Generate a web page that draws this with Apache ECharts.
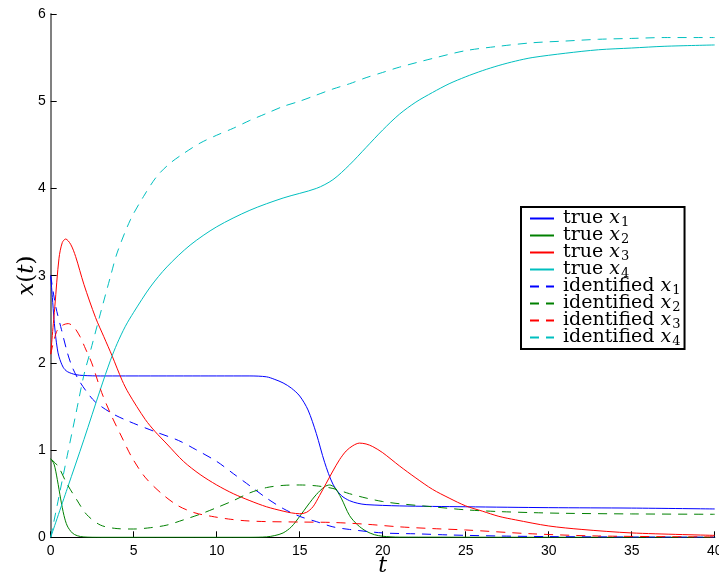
<!DOCTYPE html>
<html>
<head>
<meta charset="utf-8">
<script src="https://cdn.jsdelivr.net/npm/echarts@6/dist/echarts.min.js"></script>
<style>
  html, body { margin: 0; padding: 0; background: #ffffff; }
  #chart { width: 719px; height: 572px; }
</style>
</head>
<body>
<div id="chart"></div>
<script>
// State trajectories x1..x4 over time t: true system vs identified model
const tTrue1 = [0, 0.1, 0.2, 0.3, 0.4, 0.5, 0.75, 1, 1.5, 2, 3, 6, 10, 12, 13, 13.5, 14, 14.5, 15, 15.5, 16, 16.5, 17, 17.5, 18, 18.5, 19, 21, 25, 30, 35, 40];
const yTrue1 = [3.0, 2.75, 2.5, 2.3, 2.16, 2.07, 1.95, 1.9, 1.865, 1.855, 1.85, 1.85, 1.85, 1.85, 1.84, 1.81, 1.77, 1.71, 1.62, 1.46, 1.19, 0.86, 0.61, 0.48, 0.42, 0.39, 0.375, 0.36, 0.35, 0.34, 0.335, 0.325];

const tTrue2 = [0, 0.2, 0.4, 0.6, 0.8, 1, 1.3, 1.6, 2, 3, 12, 13, 13.5, 14, 14.5, 15, 15.5, 16, 16.5, 16.8, 17.1, 17.5, 18, 18.5, 19, 19.5, 20, 21, 40];
const yTrue2 = [0.9, 0.84, 0.66, 0.44, 0.25, 0.13, 0.05, 0.018, 0.004, 0, 0, 0.005, 0.02, 0.05, 0.12, 0.24, 0.37, 0.49, 0.58, 0.6, 0.57, 0.45, 0.25, 0.14, 0.07, 0.03, 0.012, 0.002, 0];

const tTrue3 = [0, 0.25, 0.5, 0.7, 0.9, 1.2, 1.5, 2, 2.7, 3.2, 3.7, 4.3, 4.7, 5.7, 6.3, 7, 8, 9, 10, 11, 12, 13, 14, 14.5, 15, 15.4, 15.8, 16.2, 16.6, 17, 17.4, 17.8, 18.2, 18.6, 19, 19.4, 20, 21, 22, 23, 24, 25, 26, 27, 28, 30, 32, 35, 40];
const yTrue3 = [2.1, 2.65, 3.2, 3.38, 3.42, 3.36, 3.22, 2.9, 2.52, 2.3, 2.08, 1.8, 1.65, 1.35, 1.21, 1.07, 0.87, 0.72, 0.6, 0.5, 0.42, 0.35, 0.3, 0.28, 0.27, 0.285, 0.35, 0.48, 0.62, 0.76, 0.89, 0.99, 1.05, 1.08, 1.07, 1.04, 0.97, 0.82, 0.68, 0.55, 0.45, 0.36, 0.3, 0.24, 0.2, 0.13, 0.09, 0.05, 0.022];

const tTrue4 = [0, 1, 2, 3, 3.6, 4, 4.5, 5, 6, 7, 8.4, 10, 12, 14, 16, 17, 18, 19, 20, 21, 22, 23, 24, 25, 26, 27, 28, 29, 31, 33, 35, 37, 40];
const yTrue4 = [0, 0.56, 1.12, 1.7, 2.03, 2.22, 2.42, 2.58, 2.87, 3.1, 3.35, 3.56, 3.75, 3.89, 4.0, 4.1, 4.27, 4.47, 4.67, 4.85, 4.99, 5.1, 5.2, 5.28, 5.35, 5.41, 5.46, 5.5, 5.55, 5.59, 5.61, 5.63, 5.645];

const tId1 = [0, 0.3, 0.65, 1, 1.3, 1.7, 2.2, 2.7, 3.7, 4.7, 6.3, 7.7, 8.7, 10, 11, 12, 13, 14, 15, 16, 17, 18, 20, 22, 24, 27, 30, 35, 40];
const yId1 = [3.0, 2.65, 2.38, 2.12, 1.95, 1.8, 1.66, 1.55, 1.42, 1.33, 1.21, 1.11, 1.01, 0.87, 0.73, 0.59, 0.45, 0.33, 0.24, 0.18, 0.12, 0.09, 0.05, 0.04, 0.027, 0.015, 0.008, 0.003, 0.001];

const tId2 = [0, 0.46, 0.96, 1.57, 2.17, 3, 4, 5, 6, 7, 8, 9, 10, 11, 12, 13, 14, 15, 16, 17, 18, 19, 20, 21, 23, 25, 27, 29, 31, 35, 40];
const yId2 = [0.9, 0.81, 0.62, 0.43, 0.26, 0.14, 0.1, 0.095, 0.11, 0.14, 0.2, 0.265, 0.34, 0.42, 0.51, 0.57, 0.595, 0.6, 0.59, 0.56, 0.5, 0.45, 0.41, 0.385, 0.35, 0.315, 0.295, 0.283, 0.275, 0.268, 0.264];

const tId3 = [0, 0.36, 0.7, 1.06, 1.4, 1.77, 2.1, 2.47, 3.07, 3.67, 4.28, 4.88, 5.68, 6.69, 7.69, 8.69, 9.7, 10.7, 11.7, 13, 15, 17, 19, 21, 23, 25, 29, 33, 40];
const yId3 = [2.1, 2.36, 2.43, 2.45, 2.41, 2.3, 2.16, 2.0, 1.66, 1.39, 1.15, 0.92, 0.69, 0.5, 0.36, 0.28, 0.24, 0.21, 0.19, 0.18, 0.175, 0.17, 0.15, 0.12, 0.1, 0.084, 0.04, 0.015, 0.004];

const tId4 = [0, 0.5, 1, 1.5, 2, 2.4, 3, 3.6, 4, 4.8, 5.6, 6.4, 7.2, 8, 9, 10, 11, 12, 13, 14, 15, 16, 17, 18, 19, 20, 21, 23, 25, 27, 29, 31, 33, 35, 37, 40];
const yId4 = [0, 0.47, 0.94, 1.4, 1.86, 2.14, 2.57, 2.99, 3.26, 3.64, 3.91, 4.14, 4.29, 4.4, 4.52, 4.61, 4.69, 4.78, 4.86, 4.94, 5.0, 5.07, 5.14, 5.2, 5.27, 5.33, 5.39, 5.49, 5.58, 5.63, 5.67, 5.69, 5.71, 5.72, 5.73, 5.73];

const xTicks = { min: 0, max: 40, interval: 5 };
const yTicks = { min: 0, max: 6, interval: 1 };

const colors = ['#0000ff', '#008000', '#ff0000', '#00bfbf'];
const dashPattern = [9, 7];

function zip(t, y) { return t.map((v, i) => [v, y[i]]); }

function makeSeries(name, t, y, color, dashed) {
  return {
    name: name,
    type: 'line',
    data: zip(t, y),
    symbol: 'none',
    showSymbol: false,
    smooth: 0.3,
    animation: false,
    lineStyle: { color: color, width: 1, type: dashed ? dashPattern : 'solid' },
    itemStyle: { color: color }
  };
}

const serif = 'DejaVu Serif';
const series = [
  makeSeries('true x1', tTrue1, yTrue1, colors[0], false),
  makeSeries('true x2', tTrue2, yTrue2, colors[1], false),
  makeSeries('true x3', tTrue3, yTrue3, colors[2], false),
  makeSeries('true x4', tTrue4, yTrue4, colors[3], false),
  makeSeries('identified x1', tId1, yId1, colors[0], true),
  makeSeries('identified x2', tId2, yId2, colors[1], true),
  makeSeries('identified x3', tId3, yId3, colors[2], true),
  makeSeries('identified x4', tId4, yId4, colors[3], true)
];

const chart = echarts.init(document.getElementById('chart'), null, { renderer: 'canvas' });
chart.setOption({
  animation: false,
  backgroundColor: '#ffffff',
  grid: { left: 50.7, right: 4.3, top: 14, bottom: 34.7, containLabel: false, outerBoundsMode: 'none' },
  xAxis: {
    type: 'value',
    min: xTicks.min, max: xTicks.max, interval: xTicks.interval,
    name: '{m|t}',
    nameLocation: 'middle',
    nameGap: 18,
    nameMoveOverlap: false,
    nameTextStyle: { rich: { m: { fontFamily: serif, fontStyle: 'italic', fontSize: 22, color: '#000' } } },
    axisLine: { lineStyle: { color: '#000', width: 1.2 } },
    axisTick: { inside: true, length: 6, lineStyle: { color: '#000', width: 1 } },
    axisLabel: { margin: 7, fontFamily: 'Liberation Sans', fontSize: 14, color: '#000' },
    splitLine: { show: false }
  },
  yAxis: {
    type: 'value',
    min: yTicks.min, max: yTicks.max, interval: yTicks.interval,
    name: '{m|x}{r|(}{m|t}{r|)}',
    nameLocation: 'middle',
    nameRotate: 90,
    nameGap: 12,
    nameMoveOverlap: false,
    nameTextStyle: {
      rich: {
        m: { fontFamily: serif, fontStyle: 'italic', fontSize: 23, color: '#000' },
        r: { fontFamily: serif, fontSize: 23, color: '#000' }
      }
    },
    axisLine: { show: true, lineStyle: { color: '#808080', width: 2 } },
    axisTick: { show: true, inside: true, length: 6, lineStyle: { color: '#000', width: 1 } },
    axisLabel: { margin: 5, fontFamily: 'Liberation Sans', fontSize: 14, color: '#000' },
    splitLine: { show: false }
  },
  legend: {
    orient: 'vertical',
    left: 521,
    top: 207,
    padding: [1, 4, 1, 8],
    itemGap: -4,
    itemWidth: 24,
    itemHeight: 14,
    itemStyle: { opacity: 0, borderWidth: 0 },
    borderColor: '#000',
    borderWidth: 2,
    backgroundColor: '#fff',
    selectedMode: false,
    formatter: function (name) {
      const parts = name.split(' x');
      return '{w|' + parts[0] + ' }{m|x}{s|' + parts[1] + '}';
    },
    textStyle: {
      lineHeight: 17,
      rich: {
        w: { fontFamily: serif, fontSize: 19, lineHeight: 17, color: '#000', padding: [0, 0, 0, 4] },
        m: { fontFamily: serif, fontStyle: 'italic', fontSize: 19, lineHeight: 17, color: '#000' },
        s: { fontFamily: serif, fontSize: 13, lineHeight: 9, color: '#000', padding: [8, 0, 0, 1] }
      }
    },
    data: series.map(s => s.name)
  },
  series: series
});
</script>
</body>
</html>
